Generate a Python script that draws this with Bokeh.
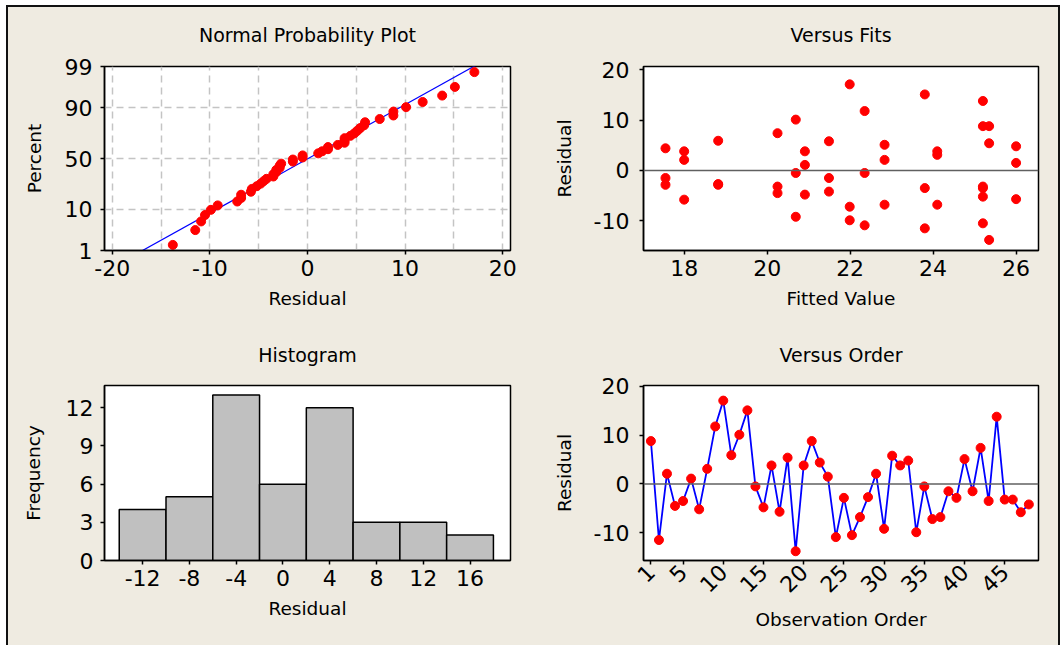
import math
from statistics import NormalDist

import numpy as np
from bokeh.plotting import figure
from bokeh.layouts import row, column
from bokeh.models import Range1d, FixedTicker, Span, CustomJSTickFormatter, LinearAxis
from bokeh.embed import file_html
from bokeh.resources import INLINE

# ---------------- data ----------------
observation = list(range(1, 49))
residuals = [8.8, -11.5, 2.1, -4.5, -3.5, 1.1, -5.2, 3.1, 11.8, 17.1,
             5.9, 10.1, 15.1, -0.5, -4.8, 3.8, -5.7, 5.4, -13.8, 3.8,
             8.8, 4.4, 1.5, -10.9, -2.85, -10.5, -6.8, -2.7, 2.1, -9.2,
             5.8, 3.8, 4.8, -9.9, -0.5, -7.2, -6.8, -1.5, -2.85, 5.1,
             -1.5, 7.4, -3.5, 13.8, -3.2, -3.2, -5.8, -4.2]
fitted = [25.2, 23.8, 18.0, 20.25, 23.8, 20.91, 25.2, 24.1, 22.35, 21.99,
          18.82, 20.69, 23.8, 20.69, 20.91, 18.0, 26.0, 25.35, 25.35, 20.91,
          25.35, 17.55, 26.0, 22.35, 17.55, 25.2, 22.83, 18.82, 22.83, 20.69,
          21.49, 24.1, 26.0, 21.99, 22.35, 21.99, 24.1, 17.55, 18.82, 22.83,
          21.49, 20.25, 25.2, 25.2, 20.25, 25.2, 18.0, 21.49]
hist_centers = [-12, -8, -4, 0, 4, 8, 12, 16]
hist_counts = [4, 5, 13, 6, 12, 3, 3, 2]
hist_bin_width = 4
pct_ticks = [1, 10, 50, 90, 99]
pct_labels = ["1", "10", "50", "90", "99"]
npp_xticks = [-20, -10, 0, 10, 20]
npp_xgrid = [-20, -15, -10, -5, 0, 5, 10, 15, 20]
fits_xticks = [18, 20, 22, 24, 26]
resid_yticks = [-10, 0, 10, 20]
hist_yticks = [0, 3, 6, 9, 12]
order_xticks = [1, 5, 10, 15, 20, 25, 30, 35, 40, 45]

# ---------------- derived ----------------
nd = NormalDist()
n = len(residuals)
sorted_res = sorted(residuals)
npp_z = [nd.inv_cdf((i - 0.3) / (n + 0.4)) for i in range(1, n + 1)]
mu = float(np.mean(residuals))
sd = float(np.std(residuals, ddof=1))
line_z = [-2.6, 2.6]
line_x = [mu + sd * z for z in line_z]
z_ticks = [nd.inv_cdf(p / 100.0) for p in pct_ticks]

FONT = "DejaVu Sans"
BG = "#EFEBE1"
RED = "#FF0000"
BLUE = "#0000FF"


def plain_formatter():
    # ASCII hyphen for negatives, as in the original
    return CustomJSTickFormatter(code="return String(Math.round(tick * 100) / 100);")


def make_fig(title, w, h, l, r, t, b, xr, yr, title_gap):
    p = figure(width=w, height=h, x_range=xr, y_range=yr,
               output_backend="svg", toolbar_location=None,
               min_border_left=l, min_border_right=r,
               min_border_top=t, min_border_bottom=b)
    p.background_fill_color = "white"
    p.border_fill_color = BG
    p.outline_line_color = "black"
    p.outline_line_width = 1.5
    p.outline_line_alpha = 1.0
    for ax in p.axis:
        ax.axis_line_color = "black"
        ax.axis_line_width = 1.5
        ax.major_tick_line_color = "black"
        ax.major_tick_line_width = 1.5
        ax.major_tick_out = 4
        ax.major_tick_in = 0
        ax.minor_tick_out = 0
        ax.minor_tick_in = 0
        ax.major_label_text_font = FONT
        ax.major_label_text_font_size = "22px"
        ax.major_label_text_color = "black"
        ax.axis_label_text_font = FONT
        ax.axis_label_text_font_size = "18.5px"
        ax.axis_label_text_font_style = "normal"
        ax.axis_label_text_color = "black"
        ax.formatter = plain_formatter()
    # panel title, centred over the frame (an untick'd axis above)
    tax = LinearAxis(axis_label=title, ticker=FixedTicker(ticks=[]),
                     axis_line_color=None, major_tick_line_color=None,
                     minor_tick_line_color=None, major_tick_out=0, minor_tick_out=0,
                     major_label_standoff=0,
                     axis_label_standoff=title_gap,
                     axis_label_text_font=FONT, axis_label_text_font_size="19px",
                     axis_label_text_font_style="normal", axis_label_text_color="black")
    p.add_layout(tax, "above")
    p.xgrid.visible = False
    p.ygrid.visible = False
    return p


# ---------------- Normal probability plot ----------------
p1 = make_fig("Normal Probability Plot", 525, 315, 96, 23, 59, 72,
              Range1d(-20.8, 20.8), Range1d(z_ticks[0], z_ticks[-1]), 21)
p1.below[0].ticker = FixedTicker(ticks=npp_xticks)
p1.yaxis.ticker = FixedTicker(ticks=z_ticks)
p1.yaxis.formatter = CustomJSTickFormatter(args=dict(zt=z_ticks, lab=pct_labels), code="""
let best = 0; let bd = 1e9;
for (let i = 0; i < zt.length; i++) { const d = Math.abs(zt[i] - tick); if (d < bd) { bd = d; best = i; } }
return lab[best];
""")
p1.below[0].axis_label = "Residual"
p1.yaxis.axis_label = "Percent"
p1.below[0].major_label_standoff = 5
p1.below[0].axis_label_standoff = 9
p1.yaxis.major_label_standoff = 8
p1.yaxis.axis_label_standoff = 17
p1.xgrid.visible = True
p1.ygrid.visible = True
p1.xgrid.ticker = FixedTicker(ticks=npp_xgrid)
p1.ygrid.ticker = FixedTicker(ticks=z_ticks)
for g in (p1.xgrid, p1.ygrid):
    g.grid_line_color = "#C4C4C4"
    g.grid_line_dash = "7 5"
    g.grid_line_width = 1.5
p1.line(line_x, line_z, line_color=BLUE, line_width=1.2)
p1.scatter(sorted_res, npp_z, size=9, fill_color=RED, line_color=RED)

# ---------------- Versus fits ----------------
p2 = make_fig("Versus Fits", 525, 315, 110, 20, 59, 72,
              Range1d(17.02, 26.54), Range1d(-15.9, 20.65), 21)
p2.below[0].ticker = FixedTicker(ticks=fits_xticks)
p2.yaxis.ticker = FixedTicker(ticks=resid_yticks)
p2.below[0].axis_label = "Fitted Value"
p2.yaxis.axis_label = "Residual"
p2.below[0].major_label_standoff = 5
p2.below[0].axis_label_standoff = 9
p2.yaxis.major_label_standoff = 10
p2.yaxis.axis_label_standoff = 16
p2.add_layout(Span(location=0, dimension="width", line_color="#606060", line_width=1.5))
p2.scatter(fitted, residuals, size=9, fill_color=RED, line_color=RED)

# ---------------- Histogram ----------------
p3 = make_fig("Histogram", 525, 323, 96, 23, 63, 85,
              Range1d(-15.26, 19.46), Range1d(0, 13.75), 20)
p3.below[0].ticker = FixedTicker(ticks=hist_centers)
p3.yaxis.ticker = FixedTicker(ticks=hist_yticks)
p3.below[0].axis_label = "Residual"
p3.yaxis.axis_label = "Frequency"
p3.below[0].major_label_standoff = 5
p3.below[0].axis_label_standoff = 9
p3.yaxis.major_label_standoff = 7
p3.yaxis.axis_label_standoff = 19
p3.vbar(x=hist_centers, top=hist_counts, width=hist_bin_width, bottom=0,
        fill_color="#C0C0C0", line_color="black", line_width=1.5)

# ---------------- Versus order ----------------
p4 = make_fig("Versus Order", 525, 323, 110, 20, 63, 85,
              Range1d(0.08, 49.2), Range1d(-15.7, 20.2), 20)
p4.below[0].ticker = FixedTicker(ticks=order_xticks)
p4.yaxis.ticker = FixedTicker(ticks=resid_yticks)
p4.below[0].major_label_orientation = math.pi / 4
p4.below[0].axis_label = "Observation Order"
p4.yaxis.axis_label = "Residual"
p4.below[0].major_label_standoff = 4
p4.below[0].axis_label_standoff = 6
p4.yaxis.major_label_standoff = 10
p4.yaxis.axis_label_standoff = 16
p4.add_layout(Span(location=0, dimension="width", line_color="#606060", line_width=1.5))
p4.line(observation, residuals, line_color=BLUE, line_width=1.8)
p4.scatter(observation, residuals, size=9, fill_color=RED, line_color=RED)

layout = column(row(p1, p2), row(p3, p4),
                styles={"margin-left": "6px", "margin-top": "5px",
                        "border-left": "2px solid #111",
                        "border-top": "2px solid #111",
                        "border-right": "2px solid #111",
                        "background-color": BG})

open("out.html", "w").write(file_html(layout, INLINE))
